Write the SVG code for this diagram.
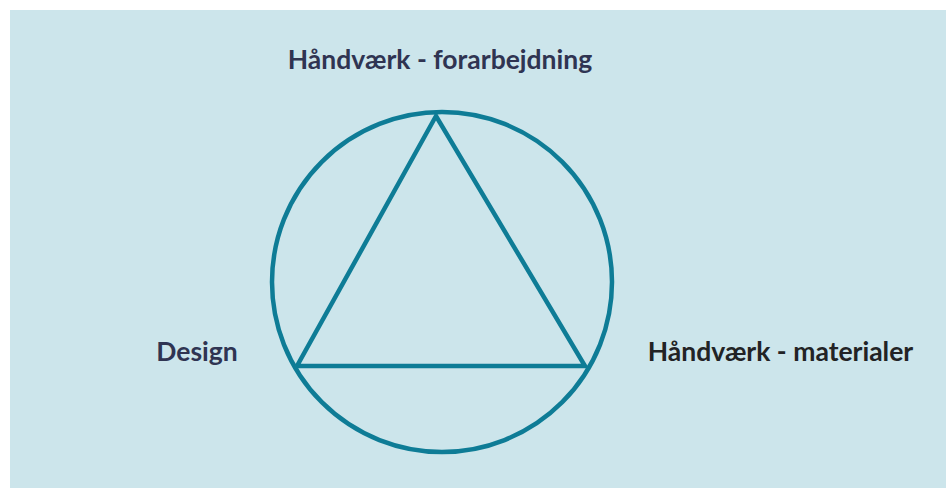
<svg xmlns="http://www.w3.org/2000/svg" width="946" height="488" viewBox="0 0 946 488">
<style>
.lbl{font-family:Lato,"Liberation Sans",sans-serif;font-weight:700;font-size:26.5px;fill:#2f3452}
.shape{fill:none;stroke:#0e7c96;stroke-width:4.5;stroke-linejoin:miter}
</style>
<rect x="10" y="10" width="936" height="478" fill="#cce5eb"/>
<g id="connectors">
<circle class="shape" cx="442" cy="282" r="170"/>
<polygon class="shape" points="436,116 297,366 585,366"/>
</g>
<g id="node-top"><text class="lbl" x="440" y="69" text-anchor="middle">Håndværk - forarbejdning</text></g>
<g id="node-left"><text class="lbl" x="197" y="361" text-anchor="middle">Design</text></g>
<g id="node-right"><text class="lbl" x="780.5" y="361" text-anchor="middle" style="fill:#222325">Håndværk - materialer</text></g>
</svg>
